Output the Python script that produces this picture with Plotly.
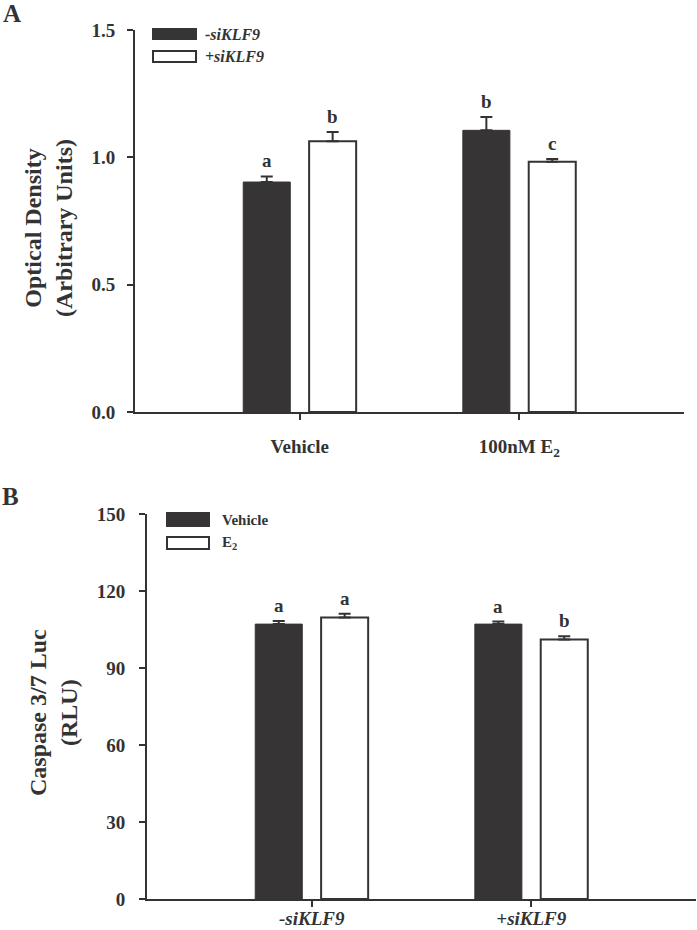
import plotly.graph_objects as go

W, H = 697, 930

# ---- Data: panel A ----
a_categories = ["Vehicle", "100nM E<sub>2</sub>"]
a_minus_si = [0.903, 1.106]
a_minus_si_err = [0.022, 0.052]
a_plus_si = [1.063, 0.983]
a_plus_si_err = [0.036, 0.010]
a_minus_letters = ["a", "b"]
a_plus_letters = ["b", "c"]
a_series_names = ["-siKLF9", "+siKLF9"]
a_yticks = [0.0, 0.5, 1.0, 1.5]

# ---- Data: panel B ----
b_categories = ["<i>-siKLF9</i>", "<i>+siKLF9</i>"]
b_vehicle = [107.1, 107.1]
b_vehicle_err = [1.2, 1.0]
b_e2 = [109.7, 101.1]
b_e2_err = [1.4, 1.3]
b_vehicle_letters = ["a", "a"]
b_e2_letters = ["a", "b"]
b_series_names = ["Vehicle", "E<sub>2</sub>"]
b_yticks = [0, 30, 60, 90, 120, 150]

DARK = "#363435"
LINE = "#333333"
FONT = "Liberation Serif"


def px(x):
    return x / W


def py(y):
    return 1 - y / H


fig = go.Figure()


def add_bars(xa, ya, cats, v1, e1, v2, e2, names):
    fig.add_trace(go.Bar(
        x=cats, y=v1, name=names[0], xaxis=xa, yaxis=ya,
        marker=dict(color=DARK, line=dict(color=DARK, width=1)),
        error_y=dict(type="data", array=e1, arrayminus=[0] * len(e1), symmetric=False,
                     color=LINE, thickness=2, width=6),
        showlegend=False))
    fig.add_trace(go.Bar(
        x=cats, y=v2, name=names[1], xaxis=xa, yaxis=ya,
        marker=dict(color="white", line=dict(color=LINE, width=2)),
        error_y=dict(type="data", array=e2, arrayminus=[0] * len(e2), symmetric=False,
                     color=LINE, thickness=2, width=6),
        showlegend=False))


add_bars("x", "y", a_categories, a_minus_si, a_minus_si_err, a_plus_si, a_plus_si_err, a_series_names)
add_bars("x2", "y2", b_categories, b_vehicle, b_vehicle_err, b_e2, b_e2_err, b_series_names)

annotations = []
OFF = 33


def add_letters(xr, yr, cats, vals, errs, letters, shift):
    for c, v, e, t in zip(cats, vals, errs, letters):
        annotations.append(dict(x=c, y=v + e, xref=xr, yref=yr, text=t, showarrow=False,
                                xshift=shift, yshift=3, xanchor="center", yanchor="bottom",
                                font=dict(family=FONT, size=19, color=LINE, weight="bold")))


add_letters("x", "y", a_categories, a_minus_si, a_minus_si_err, a_minus_letters, -OFF)
add_letters("x", "y", a_categories, a_plus_si, a_plus_si_err, a_plus_letters, OFF)
add_letters("x2", "y2", b_categories, b_vehicle, b_vehicle_err, b_vehicle_letters, -OFF)
add_letters("x2", "y2", b_categories, b_e2, b_e2_err, b_e2_letters, OFF)

tickfont = dict(family=FONT, size=19, color=LINE, weight="bold")
axis_common = dict(showline=True, linewidth=2, linecolor=LINE, ticks="outside",
                   ticklen=6, tickwidth=2, tickcolor=LINE, showgrid=False, zeroline=False,
                   tickfont=tickfont, automargin=False)

fig.update_layout(
    width=W, height=H, margin=dict(l=0, r=0, t=0, b=0, autoexpand=False),
    plot_bgcolor="white", paper_bgcolor="white",
    barmode="group", bargap=0.4, bargroupgap=0.286,
    showlegend=False,
    xaxis=dict(domain=[px(135), px(684)], range=[-0.75, 1.75], anchor="y",
               ticklabelstandoff=10, **axis_common),
    yaxis=dict(domain=[py(412), py(30)], range=[0, 1.5], tickvals=a_yticks,
               tickformat=".1f", anchor="x", ticklabelstandoff=8, **axis_common),
    xaxis2=dict(domain=[px(147), px(696)], range=[-0.75, 1.75], anchor="y2",
                ticklabelstandoff=-5, **axis_common),
    yaxis2=dict(domain=[py(899), py(514)], range=[0, 150], tickvals=b_yticks,
                anchor="x2", ticklabelstandoff=10, **axis_common),
)

# axis titles and panel letters
title_font = dict(family=FONT, size=24, color=LINE, weight="bold")
center = dict(xref="paper", yref="paper", showarrow=False, xanchor="center", yanchor="middle")
annotations += [
    dict(x=px(49), y=py(228), text="Optical Density<br>(Arbitrary Units)",
         textangle=-90, font=title_font, **center),
    dict(x=px(53), y=py(712), text="Caspase 3/7 Luc<br>(RLU)",
         textangle=-90, font=title_font, **center),
    dict(x=px(12), y=py(14), text="A",
         font=dict(family=FONT, size=25, color=LINE, weight="bold"), **center),
    dict(x=px(10), y=py(496), text="B",
         font=dict(family=FONT, size=25, color=LINE, weight="bold"), **center),
]

shapes = []
# extend x axis slightly to left of the y axis
for xr, yr in [("x domain", "y domain"), ("x2 domain", "y2 domain")]:
    shapes.append(dict(type="line", xref=xr, yref=yr, x0=-6 / 549, x1=0, y0=0, y1=0,
                       line=dict(color=LINE, width=2)))


# legends (drawn manually with wide swatches)
def legend(x0, x1, rows, names, label_x, size, italic):
    fills = [DARK, "white"]
    for (y0, y1), n, f in zip(rows, names, fills):
        shapes.append(dict(type="rect", xref="paper", yref="paper", x0=px(x0), x1=px(x1),
                           y0=py(y1), y1=py(y0), fillcolor=f,
                           line=dict(color=LINE if f == "white" else DARK, width=2)))
        txt = f"<i>{n}</i>" if italic else n
        annotations.append(dict(x=px(label_x), y=py((y0 + y1) / 2), xref="paper", yref="paper",
                                text=txt, showarrow=False, xanchor="left", yanchor="middle",
                                font=dict(family=FONT, size=size, color=LINE, weight="bold")))


legend(153, 196, [(29, 39), (51, 62)], a_series_names, 203, 16, True)
legend(167, 209, [(513, 526), (537, 549)], b_series_names, 220, 15, False)

fig.update_layout(annotations=annotations, shapes=shapes)
fig.write_html("out.html", config={"displayModeBar": False},
               post_script="document.body.style.margin='0';document.body.style.overflow='hidden';")
